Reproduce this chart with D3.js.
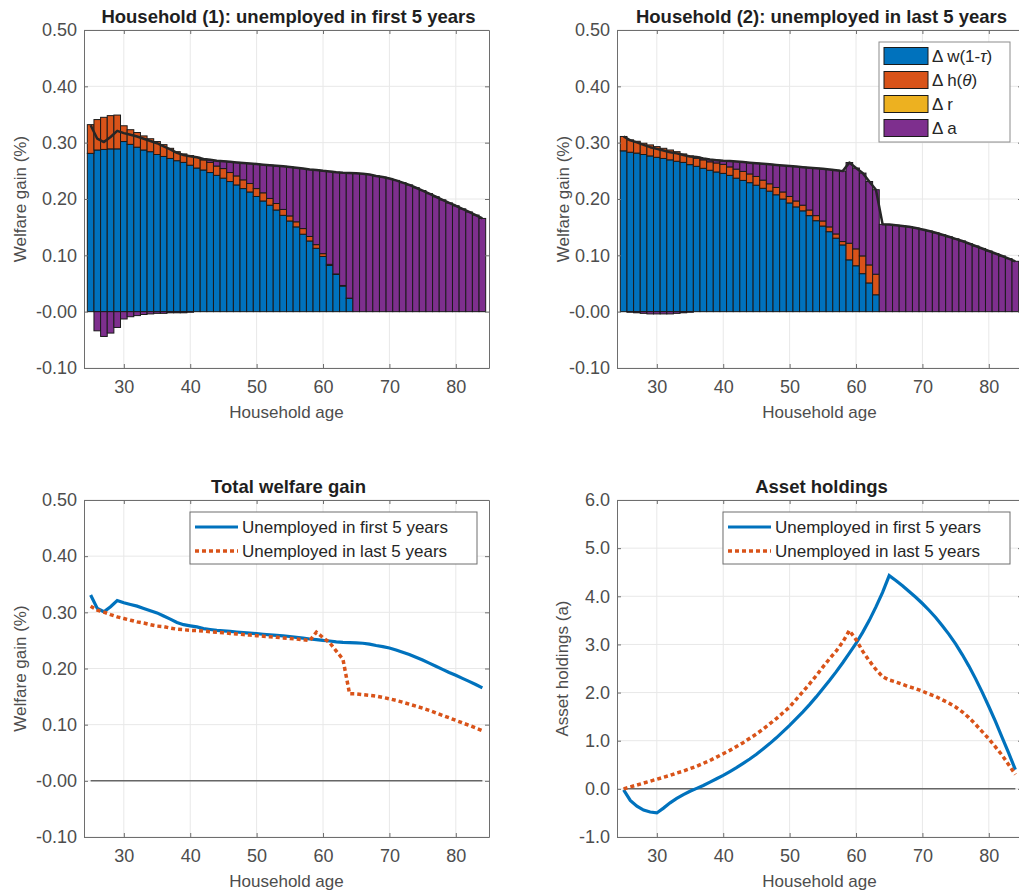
<!DOCTYPE html>
<html>
<head>
<meta charset="utf-8">
<script src="https://cdn.jsdelivr.net/npm/d3@7"></script>
<style>
  body { margin: 0; background: #fff; }
  svg { display: block; }
</style>
</head>
<body>
<svg id="fig" width="1019" height="895"></svg>
<script>
// ages on the x axis
const ages = [25,26,27,28,29,30,31,32,33,34,35,36,37,38,39,40,41,42,43,44,
  45,46,47,48,49,50,51,52,53,54,55,56,57,58,59,60,61,62,63,64,
  65,66,67,68,69,70,71,72,73,74,75,76,77,78,79,80,81,82,83,84];

// Household (1): unemployed in first 5 years -- decomposition
const hh1W = [0.281,0.287,0.288,0.289,0.289,0.302,0.297,0.292,0.287,0.284,
  0.279,0.2755,0.272,0.268,0.265,0.260,0.255,0.2515,0.247,0.242,
  0.237,0.231,0.225,0.2185,0.2125,0.2045,0.1965,0.189,0.1805,0.171,
  0.161,0.1505,0.1375,0.1255,0.1125,0.098,0.082,0.066,0.0455,0.0237,
  0,0,0,0,0,0,0,0,0,0, 0,0,0,0,0,0,0,0,0,0];
const hh1H = [0.051,0.054,0.057,0.059,0.060,0.028,0.026,0.026,0.025,0.023,
  0.023,0.021,0.018,0.016,0.015,0.017,0.019,0.018,0.018,0.0165,
  0.017,0.016,0.016,0.0155,0.015,0.014,0.0145,0.012,0.0115,0.0105,
  0.009,0.009,0.010,0.008,0.0065,0.005,0.002,0.001,0.001,0.0003,
  0,0,0,0,0,0,0,0,0,0, 0,0,0,0,0,0,0,0,0,0];
const hh1R = [0,0,0,0,0,0,0,0,0,0, 0,0,0,0,0,0,0,0,0,0, 0,0,0,0,0,0,0,0,0,0,
  0,0,0,0,0,0,0,0,0,0, 0,0,0,0,0,0,0,0,0,0, 0,0,0,0,0,0,0,0,0,0];
const hh1A = [0,-0.034,-0.044,-0.038,-0.028,-0.013,-0.009,-0.007,-0.005,-0.004,
  -0.003,-0.003,-0.002,-0.002,-0.002,-0.001,0,0.0015,0.0045,0.0095,
  0.013,0.019,0.024,0.030,0.0355,0.0435,0.050,0.059,0.067,0.0765,
  0.087,0.096,0.1065,0.119,0.1325,0.147,0.165,0.1805,0.200,0.222,
  0.2455,0.245,0.2435,0.241,0.239,0.2365,0.233,0.229,0.225,0.220,
  0.215,0.2095,0.204,0.1985,0.193,0.188,0.1825,0.177,0.1715,0.1655];
const hh1Total = [0.331,0.307,0.301,0.310,0.321,0.317,0.314,0.311,0.307,0.303,
  0.299,0.2935,0.288,0.282,0.278,0.276,0.274,0.271,0.2695,0.268,
  0.267,0.266,0.265,0.264,0.263,0.262,0.261,0.260,0.259,0.258,
  0.257,0.2555,0.254,0.2525,0.2515,0.250,0.249,0.2475,0.2465,0.246,
  0.2455,0.245,0.2435,0.241,0.239,0.2365,0.233,0.229,0.225,0.220,
  0.215,0.2095,0.204,0.1985,0.193,0.188,0.1825,0.177,0.1715,0.1655];

// Household (2): unemployed in last 5 years -- decomposition
const hh2W = [0.2855,0.283,0.2815,0.279,0.2765,0.274,0.272,0.2695,0.267,0.265,
  0.261,0.258,0.2545,0.251,0.248,0.2455,0.242,0.237,0.233,0.229,
  0.2245,0.219,0.214,0.2075,0.200,0.193,0.186,0.179,0.1705,0.1615,
  0.152,0.142,0.1305,0.1185,0.092,0.0815,0.0675,0.051,0.030,0,
  0,0,0,0,0,0,0,0,0,0, 0,0,0,0,0,0,0,0,0,0];
const hh2H = [0.0255,0.022,0.021,0.020,0.0195,0.019,0.018,0.0175,0.017,0.015,
  0.0155,0.0145,0.015,0.015,0.016,0.016,0.015,0.016,0.016,0.0155,
  0.0155,0.0145,0.013,0.013,0.0125,0.0115,0.0105,0.010,0.010,0.009,
  0.009,0.0085,0.0075,0.006,0.0295,0.030,0.0315,0.032,0.0365,0,
  0,0,0,0,0,0,0,0,0,0, 0,0,0,0,0,0,0,0,0,0];
const hh2R = [0,0,0,0,0,0,0,0,0,0, 0,0,0,0,0,0,0,0,0,0, 0,0,0,0,0,0,0,0,0,0,
  0,0,0,0,0,0,0,0,0,0, 0,0,0,0,0,0,0,0,0,0, 0,0,0,0,0,0,0,0,0,0];
const hh2A = [0,-0.001,-0.002,-0.003,-0.004,-0.004,-0.004,-0.004,-0.003,-0.002,
  -0.001,0.002,0.0025,0.004,0.005,0.0065,0.0105,0.0135,0.0165,0.020,
  0.0235,0.029,0.0345,0.040,0.047,0.054,0.061,0.0675,0.075,0.084,
  0.0925,0.102,0.1132,0.125,0.1432,0.1435,0.147,0.148,0.150,0.155,
  0.1548,0.1535,0.1522,0.1508,0.1485,0.146,0.1432,0.140,0.1365,0.133,
  0.1293,0.1255,0.121,0.1166,0.1122,0.1077,0.1032,0.0988,0.0941,0.0894];
const hh2Total = [0.311,0.304,0.3005,0.296,0.292,0.289,0.286,0.283,0.281,0.278,
  0.2755,0.2745,0.272,0.270,0.269,0.268,0.2675,0.2665,0.2655,0.2645,
  0.2635,0.2625,0.2615,0.2605,0.2595,0.2585,0.2575,0.2565,0.2555,0.2545,
  0.2535,0.2525,0.2512,0.2495,0.2647,0.255,0.246,0.231,0.2165,0.155,
  0.1548,0.1535,0.1522,0.1508,0.1485,0.146,0.1432,0.140,0.1365,0.133,
  0.1293,0.1255,0.121,0.1166,0.1122,0.1077,0.1032,0.0988,0.0941,0.0894];

// asset holdings
const assets1 = [-0.02,-0.24,-0.36,-0.44,-0.48,-0.50,-0.40,-0.29,-0.20,-0.12,
  -0.05,0.01,0.07,0.14,0.21,0.28,0.36,0.44,0.53,0.62,
  0.72,0.83,0.94,1.06,1.19,1.32,1.46,1.60,1.75,1.91,
  2.08,2.25,2.43,2.62,2.82,3.02,3.25,3.50,3.78,4.08,
  4.43,4.33,4.22,4.10,3.98,3.85,3.71,3.56,3.39,3.21,
  3.01,2.79,2.55,2.29,2.01,1.71,1.40,1.07,0.74,0.40];
const assets2 = [0.00,0.04,0.08,0.12,0.16,0.20,0.24,0.28,0.33,0.37,
  0.42,0.47,0.53,0.59,0.66,0.73,0.80,0.88,0.96,1.05,
  1.14,1.24,1.35,1.46,1.58,1.70,1.86,2.02,2.18,2.35,
  2.53,2.70,2.86,3.05,3.29,3.10,2.86,2.66,2.48,2.33,
  2.26,2.22,2.17,2.12,2.08,2.03,1.97,1.92,1.85,1.78,
  1.70,1.60,1.48,1.34,1.19,1.04,0.87,0.70,0.50,0.30];

const xTicks = [30,40,50,60,70,80];
const welfareTicks = [-0.1,0,0.1,0.2,0.3,0.4,0.5];
const welfareLabels = ["-0.10","-0.00","0.10","0.20","0.30","0.40","0.50"];
const assetTicks = [-1,0,1,2,3,4,5,6];
const assetLabels = ["-1.0","0.0","1.0","2.0","3.0","4.0","5.0","6.0"];
const seriesKeys = ["w","h","r","a"];
const lineNames = ["Unemployed in first 5 years","Unemployed in last 5 years"];

const FONT = '"Liberation Sans", Arial, Helvetica, sans-serif';
const AX = "#6e6e6e";
const TXT = "#4d4d4d";
const colors = {w:"#0072BD", h:"#D95319", r:"#EDB120", a:"#7E2F8E"};

const svg = d3.select("#fig").attr("font-family", FONT);

function makePanel(cols, rows, yDomain, yTicks, yLabels, title, ylab, ylabX) {
  const x = d3.scaleLinear().domain([24, 85]).range(cols);
  const y = d3.scaleLinear().domain(yDomain).range([rows[1], rows[0]]);
  const g = svg.append("g");
  // grid
  g.append("g").selectAll("line").data(xTicks).join("line")
    .attr("x1", d => x(d)).attr("x2", d => x(d))
    .attr("y1", rows[0]).attr("y2", rows[1])
    .attr("stroke", "#e8e8e8").attr("stroke-width", 1);
  g.append("g").selectAll("line").data(yTicks).join("line")
    .attr("x1", cols[0]).attr("x2", cols[1])
    .attr("y1", d => y(d)).attr("y2", d => y(d))
    .attr("stroke", "#e8e8e8").attr("stroke-width", 1);
  const plot = g.append("g");
  g.append("text").attr("x", (cols[0] + cols[1]) / 2 + 2).attr("y", rows[0] - 7)
    .attr("text-anchor", "middle").attr("font-weight", "bold")
    .attr("font-size", 18.5).attr("fill", "#1f1f1f").text(title);
  g.append("text").attr("x", (cols[0] + cols[1]) / 2).attr("y", rows[1] + 50)
    .attr("text-anchor", "middle").attr("font-size", 17).attr("fill", TXT)
    .text("Household age");
  g.append("text")
    .attr("transform", `translate(${ylabX},${(rows[0] + rows[1]) / 2}) rotate(-90)`)
    .attr("text-anchor", "middle").attr("dy", "0.35em")
    .attr("font-size", 17).attr("fill", TXT).text(ylab);
  return {g, plot, x, y, cols, rows, yTicks, yLabels};
}

function drawAxes(p) {
  const fmt = d => p.yLabels[p.yTicks.indexOf(d)];
  const style = sel => {
    sel.select(".domain").attr("stroke", AX);
    sel.selectAll(".tick line").attr("stroke", AX);
    sel.selectAll("text").attr("fill", TXT).attr("font-size", 18).attr("font-family", FONT);
  };
  p.g.append("g").attr("transform", `translate(0,${p.rows[1]})`)
    .call(d3.axisBottom(p.x).tickValues(xTicks).tickSize(-4).tickSizeOuter(0)
      .tickPadding(12).tickFormat(d3.format("d")))
    .call(style);
  p.g.append("g").attr("transform", `translate(0,${p.rows[0]})`)
    .call(d3.axisTop(p.x).tickValues(xTicks).tickSize(-4).tickSizeOuter(0).tickFormat(""))
    .call(style);
  p.g.append("g").attr("transform", `translate(${p.cols[0]},0)`)
    .call(d3.axisLeft(p.y).tickValues(p.yTicks).tickSize(-4).tickSizeOuter(0)
      .tickPadding(7).tickFormat(fmt))
    .call(style);
  p.g.append("g").attr("transform", `translate(${p.cols[1]},0)`)
    .call(d3.axisRight(p.y).tickValues(p.yTicks).tickSize(-4).tickSizeOuter(0).tickFormat(""))
    .call(style);
}

function drawBars(p, w, h, r, a, total) {
  const rowsData = ages.map((age, i) => ({age, w: w[i], h: h[i], r: r[i], a: a[i]}));
  const stacked = d3.stack().keys(seriesKeys).offset(d3.stackOffsetDiverging)(rowsData);
  const bw = p.x(1) - p.x(0);
  p.plot.selectAll("g.series").data(stacked).join("g").attr("class", "series")
    .attr("fill", d => colors[d.key])
    .selectAll("rect").data(d => d).join("rect")
    .attr("x", d => p.x(d.data.age) - bw / 2)
    .attr("width", bw)
    .attr("y", d => p.y(Math.max(d[0], d[1])))
    .attr("height", d => Math.abs(p.y(d[0]) - p.y(d[1])))
    .attr("stroke", "#1a1a1a").attr("stroke-width", 1);
  const line = d3.line().x((d, i) => p.x(ages[i])).y(d => p.y(d));
  p.plot.append("path").datum(total).attr("d", line)
    .attr("fill", "none").attr("stroke", "#262626").attr("stroke-width", 2.5)
    .attr("stroke-linejoin", "round");
}

function drawLines(p, s1, s2) {
  const line = d3.line().x((d, i) => p.x(ages[i])).y(d => p.y(d));
  p.plot.append("line")
    .attr("x1", p.x(25)).attr("x2", p.x(84))
    .attr("y1", p.y(0)).attr("y2", p.y(0))
    .attr("stroke", "#666").attr("stroke-width", 1.5);
  p.plot.append("path").datum(s1).attr("d", line)
    .attr("fill", "none").attr("stroke", colors.w).attr("stroke-width", 3.2);
  p.plot.append("path").datum(s2).attr("d", line)
    .attr("fill", "none").attr("stroke", colors.h).attr("stroke-width", 3.5)
    .attr("stroke-dasharray", "4,3");
}

function lineLegend(p, x0, y0, w) {
  const lg = p.g.append("g");
  lg.append("rect").attr("x", x0).attr("y", y0).attr("width", w).attr("height", 52)
    .attr("fill", "#fff").attr("stroke", "#6e6e6e").attr("stroke-width", 1);
  lineNames.forEach((name, i) => {
    const cy = y0 + 15 + i * 24;
    lg.append("line").attr("x1", x0 + 5).attr("x2", x0 + 48)
      .attr("y1", cy).attr("y2", cy)
      .attr("stroke", i === 0 ? colors.w : colors.h)
      .attr("stroke-width", i === 0 ? 3.2 : 3.5)
      .attr("stroke-dasharray", i === 0 ? null : "4,3");
    lg.append("text").attr("x", x0 + 52).attr("y", cy).attr("dy", "0.35em")
      .attr("font-size", 17).attr("fill", "#262626").text(name);
  });
}

const LEFT = [84, 489], RIGHT = [617, 1022];
const TOP = [30, 368], BOTTOM = [500, 837];

const p1 = makePanel(LEFT, TOP, [-0.1, 0.5], welfareTicks, welfareLabels,
  "Household (1): unemployed in first 5 years", "Welfare gain (%)", 20);
drawBars(p1, hh1W, hh1H, hh1R, hh1A, hh1Total);
drawAxes(p1);

const p2 = makePanel(RIGHT, TOP, [-0.1, 0.5], welfareTicks, welfareLabels,
  "Household (2): unemployed in last 5 years", "Welfare gain (%)", 563);
drawBars(p2, hh2W, hh2H, hh2R, hh2A, hh2Total);
drawAxes(p2);

// decomposition legend
const legendItems = [
  {key: "w", parts: [["\u0394 w(1-", false], ["\u03C4", true], [")", false]]},
  {key: "h", parts: [["\u0394 h(", false], ["\u03B8", true], [")", false]]},
  {key: "r", parts: [["\u0394 r", false]]},
  {key: "a", parts: [["\u0394 a", false]]}
];
const leg = p2.g.append("g");
leg.append("rect").attr("x", 879).attr("y", 42).attr("width", 131).attr("height", 100)
  .attr("fill", "#fff").attr("stroke", "#8c8c8c").attr("stroke-width", 1);
legendItems.forEach((it, i) => {
  const cy = 56 + i * 24;
  leg.append("rect").attr("x", 884).attr("y", cy - 8.5).attr("width", 44).attr("height", 17)
    .attr("fill", colors[it.key]).attr("stroke", "#1a1a1a").attr("stroke-width", 1);
  const t = leg.append("text").attr("x", 932).attr("y", cy).attr("dy", "0.35em")
    .attr("font-size", 17).attr("fill", "#262626");
  it.parts.forEach(([s, ital]) => {
    t.append("tspan").attr("font-style", ital ? "italic" : null).text(s);
  });
});

const p3 = makePanel(LEFT, BOTTOM, [-0.1, 0.5], welfareTicks, welfareLabels,
  "Total welfare gain", "Welfare gain (%)", 20);
drawLines(p3, hh1Total, hh2Total);
drawAxes(p3);
lineLegend(p3, 190, 512, 287);

const p4 = makePanel(RIGHT, BOTTOM, [-1, 6], assetTicks, assetLabels,
  "Asset holdings", "Asset holdings (a)", 562);
drawLines(p4, assets1, assets2);
drawAxes(p4);
lineLegend(p4, 723, 512, 287);
</script>
</body>
</html>
